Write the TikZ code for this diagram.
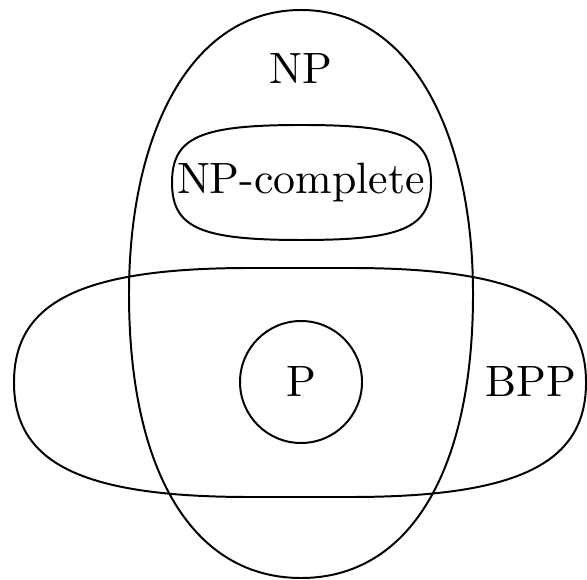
\documentclass[tikz,border=0pt]{standalone}
\begin{document}
\begin{tikzpicture}[x=0.228pt,y=-0.228pt,line width=0.45pt,
  lbl/.style={inner sep=0pt,anchor=center},
  setline/.style={draw=black}]
\useasboundingbox (0,0) rectangle (587,580);
% NP
\path[setline] (301,10) .. controls (190,10) and (129,135) .. (129,294)
  .. controls (129,472.1) and (193.2,578) .. (301,578)
  .. controls (408.8,578) and (473,472.1) .. (473,294)
  .. controls (473,135) and (412,10) .. cycle;
% BPP
\path[setline] (250,268) -- (350,268) .. controls (520,268) and (586,302.5) .. (586,382.5)
  .. controls (586,462.5) and (520,497) .. (350,497) -- (250,497)
  .. controls (80,497) and (14,462.5) .. (14,382.5)
  .. controls (14,302.5) and (80,268) .. cycle;
% NP-complete
\path[setline] (301.5,125) .. controls (401.5,125) and (431,136.5) .. (431,182.5)
  .. controls (431,228.5) and (401.5,240) .. (301.5,240)
  .. controls (201.5,240) and (172,228.5) .. (172,182.5)
  .. controls (172,136.5) and (201.5,125) .. cycle;
% P
\path[setline] (301,382) circle [radius=61];
\node[lbl] (np) at (301,69) {NP};
\node[lbl] (npc) at (301,183) {NP-complete};
\node[lbl] (p) at (301,382) {P};
\node[lbl] (bpp) at (531,382) {BPP};
\end{tikzpicture}
\end{document}
